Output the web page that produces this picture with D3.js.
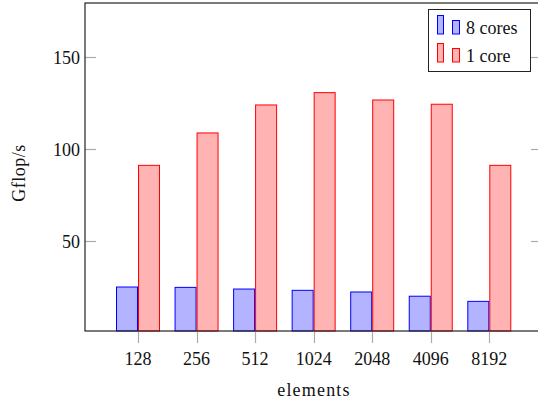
<!DOCTYPE html>
<html>
<head>
<meta charset="utf-8">
<script src="https://cdn.jsdelivr.net/npm/d3@7"></script>
<style>
  html, body { margin: 0; padding: 0; background: #fff; }
  svg { display: block; }
  text { font-family: "Liberation Serif", "Times New Roman", serif; fill: #111; }
</style>
</head>
<body>
<svg id="chart" width="538" height="406"></svg>
<script>
// ---- data ----
const categories = ["128", "256", "512", "1024", "2048", "4096", "8192"];
const cores8 = [25.0, 24.8, 23.9, 23.2, 22.3, 20.0, 17.2];
const core1 = [91.1, 108.7, 123.9, 130.6, 126.6, 124.3, 91.1];
const yTicks = [50, 100, 150];
const seriesNames = ["8 cores", "1 core"];
const xLabel = "elements";
const yLabel = "Gflop/s";

// ---- layout ----
const L = 85, R = 542, T = 3, B = 331;
const svg = d3.select("#chart");
const fontSize = 18;

const x = d3.scalePoint().domain(categories).range([138, 489.3]);
const y = d3.scaleLinear().domain([1.1, 179.3]).range([B, T]);
const barW = 22;

const colors = {
  blue: { fill: "#b3b3ff", stroke: "#0000ff" },
  red: { fill: "#ffb3b3", stroke: "#ff0000" }
};

// bars
const g = svg.append("g");
g.selectAll("rect.b8").data(cores8).join("rect")
  .attr("x", (d, i) => x(categories[i]) - barW + 0.5)
  .attr("y", d => y(d))
  .attr("width", barW - 1)
  .attr("height", d => B - y(d))
  .attr("fill", colors.blue.fill)
  .attr("stroke", colors.blue.stroke)
  .attr("stroke-width", 1);
g.selectAll("rect.b1").data(core1).join("rect")
  .attr("x", (d, i) => x(categories[i]) + 0.5)
  .attr("y", d => y(d))
  .attr("width", barW - 1)
  .attr("height", d => B - y(d))
  .attr("fill", colors.red.fill)
  .attr("stroke", colors.red.stroke)
  .attr("stroke-width", 1);

// y ticks (inside, both sides)
const tickColor = "#ababab";
yTicks.forEach(t => {
  const yy = Math.round(y(t)) + 0.5;
  svg.append("line").attr("x1", L).attr("x2", L + 11).attr("y1", yy).attr("y2", yy)
    .attr("stroke", tickColor).attr("stroke-width", 1.2);
  svg.append("line").attr("x1", R - 11).attr("x2", R).attr("y1", yy).attr("y2", yy)
    .attr("stroke", tickColor).attr("stroke-width", 1.2);
  svg.append("text").attr("x", 80).attr("y", yy + 6)
    .attr("text-anchor", "end").attr("font-size", fontSize).text(t);
});

// x ticks (outside, bottom)
categories.forEach(c => {
  const xx = Math.round(x(c)) + 0.5;
  svg.append("line").attr("x1", xx).attr("x2", xx).attr("y1", B).attr("y2", B + 12)
    .attr("stroke", tickColor).attr("stroke-width", 1.2);
  svg.append("text").attr("x", x(c)).attr("y", 365)
    .attr("text-anchor", "middle").attr("font-size", fontSize).text(c);
});

// axis box
svg.append("rect").attr("x", L).attr("y", T).attr("width", R - L).attr("height", B - T)
  .attr("fill", "none").attr("stroke", "#222").attr("stroke-width", 1.2);

// axis labels
svg.append("text").attr("x", 314).attr("y", 396)
  .attr("text-anchor", "middle").attr("font-size", fontSize)
  .attr("letter-spacing", 1.2).text(xLabel);
svg.append("text").attr("transform", "translate(25,173) rotate(-90)")
  .attr("text-anchor", "middle").attr("font-size", fontSize)
  .attr("letter-spacing", 0.5).text(yLabel);

// legend
const lg = svg.append("g");
lg.append("rect").attr("x", 428.5).attr("y", 9.5).attr("width", 102).attr("height", 62)
  .attr("fill", "#fff").attr("stroke", "#222").attr("stroke-width", 1);
const legendColors = [colors.blue, colors.red];
seriesNames.forEach((name, i) => {
  const oy = i * 28;
  const c = legendColors[i];
  lg.append("rect").attr("x", 437.5).attr("y", 15.5 + oy).attr("width", 6).attr("height", 18.5)
    .attr("fill", c.fill).attr("stroke", c.stroke).attr("stroke-width", 1);
  lg.append("rect").attr("x", 452.5).attr("y", 20.5 + oy).attr("width", 7).attr("height", 13.5)
    .attr("fill", c.fill).attr("stroke", c.stroke).attr("stroke-width", 1);
  lg.append("text").attr("x", 466).attr("y", 34 + oy).attr("font-size", fontSize).text(name);
});
</script>
</body>
</html>
